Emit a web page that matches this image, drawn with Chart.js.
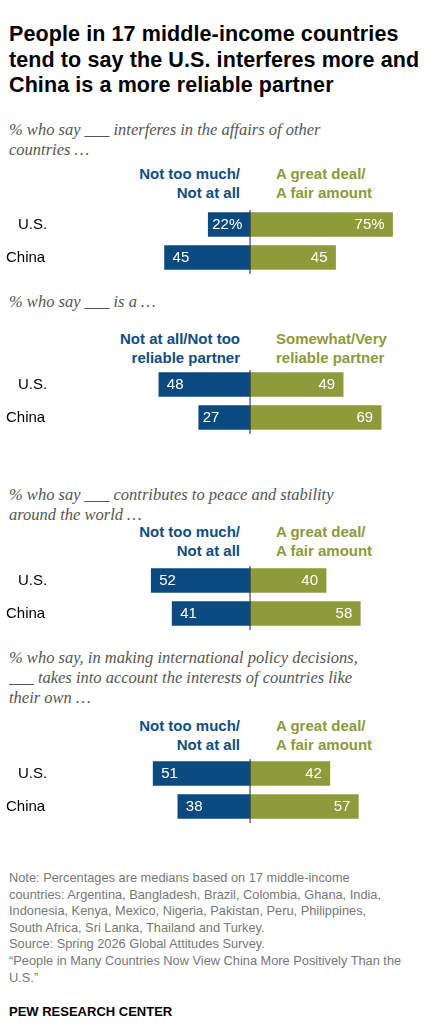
<!DOCTYPE html><html><head><meta charset="utf-8">
<script src="https://cdn.jsdelivr.net/npm/chart.js@4"></script>
<style>
body{margin:0;width:445px;height:1024px;background:#fff;position:relative;font-family:"Liberation Sans",Arial,sans-serif;overflow:hidden}
.a{position:absolute;white-space:nowrap}
.t{left:9px;top:22px;font-size:21.5px;font-weight:bold;line-height:25.5px;color:#000;letter-spacing:0.1px}
.s{left:9px;font-family:"Liberation Serif","DejaVu Serif",serif;font-style:italic;font-size:16.5px;line-height:20px;color:#555}
.h{font-size:15px;font-weight:bold;line-height:18.5px}
.hl{color:#104d80;text-align:right;right:205px}
.hr{color:#8c9a39;left:276px;text-align:left}
.n{left:9px;top:870px;font-size:12.8px;line-height:16.6px;color:#777}
canvas{position:absolute;left:0}
</style></head><body>
<div class="a t">People in 17 middle-income countries<br>tend to say the U.S. interferes more and<br>China is a more reliable partner</div>

<div class="a s" style="top:120px">% who say ___ interferes in the affairs of other<br>countries …</div>
<div class="a h hl" style="top:165px">Not too much/<br>Not at all</div>
<div class="a h hr" style="top:165px">A great deal/<br>A fair amount</div>

<div class="a s" style="top:292px">% who say ___ is a …</div>
<div class="a h hl" style="top:330px">Not at all/Not too<br>reliable partner</div>
<div class="a h hr" style="top:330px">Somewhat/Very<br>reliable partner</div>

<div class="a s" style="top:485px">% who say ___ contributes to peace and stability<br>around the world …</div>
<div class="a h hl" style="top:523px">Not too much/<br>Not at all</div>
<div class="a h hr" style="top:523px">A great deal/<br>A fair amount</div>

<div class="a s" style="top:648px">% who say, in making international policy decisions,<br>___ takes into account the interests of countries like<br>their own …</div>
<div class="a h hl" style="top:717px">Not too much/<br>Not at all</div>
<div class="a h hr" style="top:717px">A great deal/<br>A fair amount</div>

<canvas id="c0" width="445" height="66" style="top:208px"></canvas>
<canvas id="c1" width="445" height="66" style="top:368px"></canvas>
<canvas id="c2" width="445" height="66" style="top:564px"></canvas>
<canvas id="c3" width="445" height="66" style="top:757px"></canvas>

<div class="a n">Note: Percentages are medians based on 17 middle-income<br>countries: Argentina, Bangladesh, Brazil, Colombia, Ghana, India,<br>Indonesia, Kenya, Mexico, Nigeria, Pakistan, Peru, Philippines,<br>South Africa, Sri Lanka, Thailand and Turkey.<br>Source: Spring 2026 Global Attitudes Survey.<br>“People in Many Countries Now View China More Positively Than the<br>U.S.”</div>
<div class="a" style="left:9px;top:1004px;font-size:13px;font-weight:bold;color:#000">PEW RESEARCH CENTER</div>
<script>
const categories=["U.S.","China"];
const negValues=[[22,45],[48,27],[52,41],[51,38]];
const posValues=[[75,45],[49,69],[40,58],[42,57]];
const pctFirst=[true,false,false,false];
const BLUE="#0b4a7f",OLIVE="#8e9b3a";
const lab={id:"lab",afterDatasetsDraw(ch){
  const ctx=ch.ctx,x0=ch.scales.x.getPixelForValue(0);
  ctx.save();ctx.strokeStyle="#444";ctx.lineWidth=1.2;ctx.beginPath();ctx.moveTo(x0,2);ctx.lineTo(x0,ch.height);ctx.stroke();
  ctx.font="15px 'Liberation Sans',Arial";ctx.textBaseline="middle";
  ch.data.datasets.forEach((ds,di)=>{ch.getDatasetMeta(di).data.forEach((b,i)=>{
    const v=Math.abs(ds.data[i]);const t=v+(ch.options.pct&&i===0?"%":"");
    ctx.fillStyle="#fff";
    if(di===0){ctx.textAlign="left";ctx.fillText(t,b.x+(v<30?4:8),b.y);}
    else{ctx.textAlign="right";ctx.fillText(t,b.x-8,b.y);}
  });});
  ctx.fillStyle="#000";ctx.textAlign="left";
  ch.scales.y.ticks.forEach((tk,i)=>{ctx.fillText(categories[i],i===0?18:6,ch.scales.y.getPixelForTick(i));});
  ctx.restore();}};
for(let p=0;p<4;p++){
  new Chart(document.getElementById("c"+p),{type:"bar",
    data:{labels:categories,datasets:[
      {data:negValues[p].map(v=>-v),backgroundColor:BLUE,barThickness:24},
      {data:posValues[p],backgroundColor:OLIVE,barThickness:24}]},
    options:{pct:pctFirst[p],indexAxis:"y",responsive:false,animation:false,
      layout:{padding:0},
      plugins:{legend:{display:false},tooltip:{enabled:false}},
      scales:{x:{stacked:true,display:false,min:-131.6,max:102.6},
              y:{stacked:true,display:false}}},
    plugins:[lab]});
}
</script></body></html>
